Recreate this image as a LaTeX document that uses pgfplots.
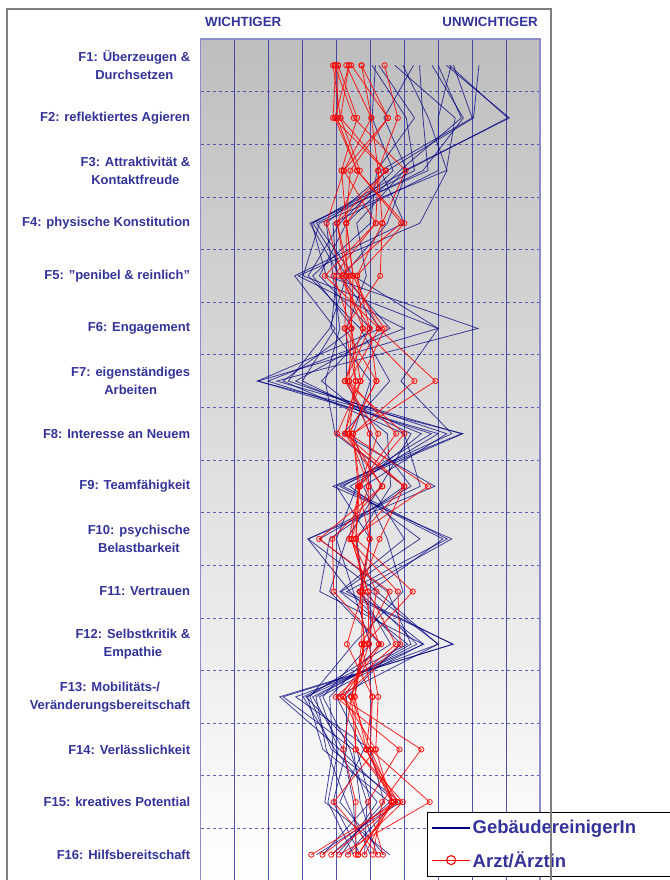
\documentclass[border=0pt]{standalone}
\usepackage{fontspec}
\setmainfont{Liberation Sans}
\usepackage{pgfplots}
\usepackage{pgfplotstable}
\pgfplotsset{compat=1.18}
\definecolor{txtblue}{RGB}{51,51,153}
\definecolor{navyline}{RGB}{0,0,128}
\definecolor{gridblue}{RGB}{50,50,160}
\definecolor{bordblue}{RGB}{140,140,200}
\definecolor{bgtop}{RGB}{190,190,190}
\definecolor{frame}{RGB}{128,128,128}

\pgfplotstableread{
y r1 r2 r3 r4 r5 r6 r7 r8 r9 r10 r11 r12 b1 b2 b3 b4 b5 b6 b7 b8 b9 b10 b11 b12 b13 b14
1 3.90 4.29 3.98 4.74 3.95 4.37 4.05 5.42 4.05 4.44 4.37 4.74 5.72 7.24 5.05 7.45 6.45 5.15 7.33 5.96 8.20 6.82 5.25 7.38 6.27 7.00
2 4.12 5.03 3.90 5.52 4.51 3.95 4.61 5.81 4.02 5.52 4.12 5.03 7.50 9.10 6.06 8.00 6.55 5.05 9.05 6.71 8.04 7.74 6.30 7.00 5.40 7.68
3 4.69 4.22 5.45 4.22 6.04 4.61 4.15 5.23 4.61 4.41 5.45 5.23 7.24 6.00 6.30 5.30 6.70 5.67 6.06 7.26 5.50 6.55 5.19 7.00 6.08 5.87
4 4.02 5.16 4.29 3.71 5.35 5.91 4.29 5.16 6.00 4.29 4.02 5.35 3.50 4.60 3.27 6.00 3.22 4.10 3.31 6.46 3.70 3.41 5.00 3.90 5.50 4.30
5 4.29 3.66 4.49 4.18 5.29 4.08 4.49 3.92 4.61 4.29 4.39 4.61 3.02 4.88 3.70 2.77 4.10 3.17 4.30 2.87 3.90 4.50 3.30 4.00 4.20 3.50
6 4.25 5.25 4.44 4.78 4.25 4.98 5.25 4.44 4.78 5.42 4.44 4.98 6.99 4.30 8.17 3.96 5.30 4.70 3.80 6.00 4.10 7.00 4.50 3.85 5.58 5.00
7 5.18 4.37 4.71 6.30 4.57 4.25 6.92 4.57 4.25 4.71 4.37 5.18 1.69 4.30 2.24 3.00 1.67 5.57 2.58 1.98 3.67 5.90 2.43 5.00 2.80 3.56
8 4.37 5.76 4.02 4.49 4.25 6.00 4.49 4.37 5.23 4.25 4.98 4.37 7.00 5.00 7.69 6.20 7.73 4.20 7.25 6.80 3.96 7.40 6.00 4.50 6.50 5.50
9 5.35 4.64 6.00 4.69 6.00 4.69 4.64 6.70 4.69 5.35 4.95 4.95 4.40 6.20 3.90 5.30 4.10 6.90 4.80 4.20 6.00 4.00 6.47 5.00 4.60 5.60
10 3.49 4.57 5.27 4.37 4.57 4.44 4.98 4.44 4.57 3.88 4.98 4.44 6.46 3.50 7.40 4.30 7.14 3.16 5.50 7.27 3.80 5.00 3.17 6.00 4.00 4.60
11 5.57 4.78 4.69 5.81 4.78 4.93 4.69 4.93 6.25 3.92 4.78 5.18 4.15 5.50 4.60 3.80 5.00 4.40 5.96 4.30 3.51 4.70 5.20 4.10 4.50 4.80
12 4.74 5.25 4.83 5.88 4.31 5.75 4.83 4.96 4.83 5.32 4.74 4.96 7.44 6.20 6.57 5.30 7.00 5.90 4.50 7.43 6.55 5.60 6.99 6.10 5.00 6.37
13 5.06 4.10 4.54 4.20 5.06 3.98 4.44 5.23 4.44 4.20 4.54 4.44 2.33 3.40 3.10 3.80 2.80 4.30 3.22 2.43 3.50 3.15 4.00 3.02 3.60 3.30
14 4.88 6.50 4.57 5.16 5.00 5.86 4.57 5.16 4.20 4.88 4.88 5.00 4.10 3.70 4.60 3.90 5.00 4.30 3.85 4.50 4.05 3.60 4.80 3.95 4.40 4.20
15 5.69 5.35 5.96 3.92 6.75 4.93 5.81 5.62 4.57 5.81 5.62 5.69 5.72 4.30 5.00 3.66 5.40 3.90 5.90 4.70 3.75 5.57 4.10 5.20 4.90 4.50
16 3.59 5.08 4.34 5.23 4.08 5.37 3.26 4.83 4.57 3.85 4.64 4.64 4.30 5.00 3.60 5.57 4.00 4.70 3.41 5.20 4.50 3.85 5.40 4.15 4.83 4.60
}\datatable

\begin{document}
\begin{tikzpicture}
\begin{axis}[
  width=339.3pt, height=842pt, scale only axis,
  xmin=0, xmax=10, ymin=0.5, ymax=16.5, y dir=reverse,
  xtick={1,2,...,9}, xticklabels={,,,,,,,,},
  xticklabel style={inner sep=0pt, yshift=40pt},
  ytick={1,2,...,16},
  minor ytick={1.5,2.5,...,15.5},
  yticklabels={{F1: Überzeugen \&\\Durchsetzen},
    {F2: reflektiertes Agieren},
    {F3: Attraktivität \&\\Kontaktfreude},
    {F4: physische Konstitution},
    {F5: \symbol{34}penibel \& reinlich\symbol{34}},
    {F6: Engagement},
    {F7: eigenständiges\\Arbeiten},
    {F8: Interesse an Neuem},
    {F9: Teamfähigkeit},
    {F10: psychische\\Belastbarkeit},
    {F11: Vertrauen},
    {F12: Selbstkritik \&\\Empathie},
    {F13: Mobilitäts-/\\Veränderungsbereitschaft},
    {F14: Verlässlichkeit},
    {F15: kreatives Potential},
    {F16: Hilfsbereitschaft}},
  yticklabel style={font=\bfseries\fontsize{13}{18}\selectfont, text=txtblue, align=center, anchor=east, xshift=-7pt},
  xmajorgrids, yminorgrids,
  major x grid style={gridblue, line width=0.9pt, opacity=0.85, solid},
  minor y grid style={gridblue, line width=0.7pt, dash pattern=on 3pt off 3pt, opacity=0.75},
  major tick length=0pt, minor tick length=0pt,
  axis line style={bordblue, line width=1.2pt},
  axis background/.style={shade, top color=bgtop, bottom color=white},
  legend style={at={(axis description cs:0.667,0.082)}, anchor=north west,
    draw=black, line width=1.2pt, fill=white, text=txtblue,
    font=\bfseries\fontsize{18.5}{22}\selectfont,
    inner xsep=4pt, inner ysep=6pt, row sep=12pt, cells={anchor=west}},
  legend image code/.code={\draw[mark repeat=2,mark phase=2,#1] plot coordinates {(0pt,0pt) (19pt,0pt) (38pt,0pt)};},
  blueline/.style={navyline, line width=0.8pt, opacity=0.72},
  redline/.style={red, line width=0.8pt, opacity=0.85, mark=o, mark size=2.6pt, mark options={solid, fill=white, draw=red, line width=0.9pt}},
]
\pgfplotsinvokeforeach{1,...,14}{
  \addplot[blueline, forget plot] table[x=b#1, y=y] {\datatable};
}
\pgfplotsinvokeforeach{1,...,12}{
  \addplot[redline, forget plot] table[x=r#1, y=y] {\datatable};
}
\addlegendimage{navyline, line width=1.1pt}
\addlegendentry{GebäudereinigerIn\hspace*{40pt}}
\addlegendimage{red, line width=1.1pt, mark=o, mark size=4.5pt, mark options={fill=white, line width=1.1pt}}
\addlegendentry{Arzt/Ärztin}
\coordinate (SW) at (axis description cs:0,0);
\coordinate (NW) at (axis description cs:0,1);
\coordinate (NE) at (axis description cs:1,1);
\coordinate (SE) at (axis description cs:1,0);
\end{axis}
\node[anchor=base west, text=txtblue, font=\bfseries\fontsize{13.3}{16}\selectfont, inner sep=0pt] at ([shift={(4.3pt,12.2pt)}]NW) {WICHTIGER};
\node[anchor=base east, text=txtblue, font=\bfseries\fontsize{13.3}{16}\selectfont, inner sep=0pt] at ([shift={(-2pt,12.2pt)}]NE) {UNWICHTIGER};
\draw[frame, line width=1.5pt] ([shift={(-193.7pt,-20pt)}]SW) -- ([shift={(-193.7pt,30pt)}]NW) -- ([shift={(11pt,30pt)}]NE) -- ([shift={(11pt,-20pt)}]SE);
\pgfresetboundingbox
\path[use as bounding box] ([shift={(-200.7pt,1pt)}]SW) rectangle ([shift={(129pt,39pt)}]NE);
\end{tikzpicture}
\end{document}
